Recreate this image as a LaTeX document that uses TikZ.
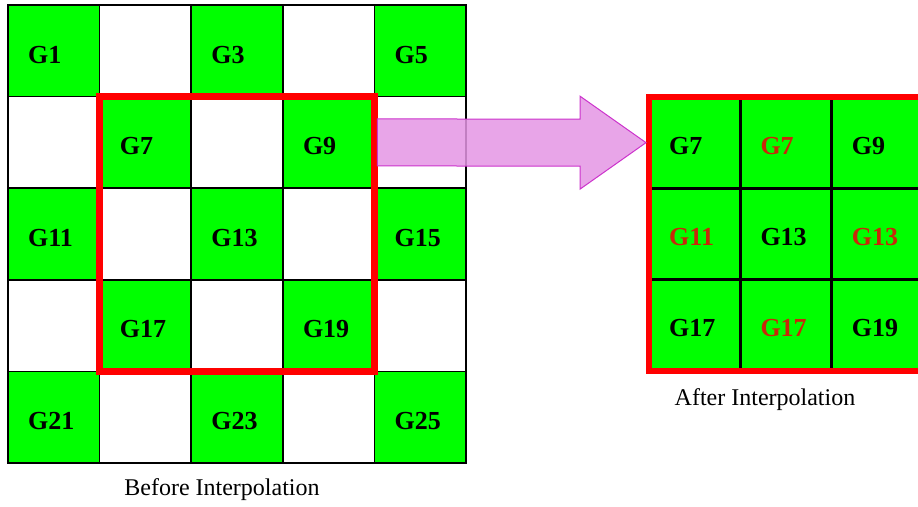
\documentclass[tikz,border=0pt]{standalone}
\usepackage{fontspec}
\setmainfont{Liberation Serif}
\usetikzlibrary{calc}
\definecolor{gr}{RGB}{0,255,0}
\definecolor{lbl}{RGB}{200,40,10}
\definecolor{arrowc}{RGB}{204,51,204}
\definecolor{arrowf}{RGB}{228,150,228}
\begin{document}
\begin{tikzpicture}[x=1pt,y=-1pt,
  cell/.style={draw=black, line width=1.5pt, minimum size=91.6pt, inner sep=0pt, outer sep=0pt, anchor=north west},
  rcell/.style={draw=black, line width=3pt, minimum size=91.3pt, inner sep=0pt, outer sep=0pt, anchor=north west, fill=gr},
  lab/.style={font=\fontsize{26}{30}\selectfont\bfseries, anchor=base west, inner sep=0pt},
  captext/.style={font=\fontsize{24}{28}\selectfont, anchor=base, inner sep=0pt},
  redbox/.style={draw=red, line width=6.5pt}]
\useasboundingbox (0,0) rectangle (918,506);
\fill[white] (0,0) rectangle (918,506);
% left grid
\foreach \j in {0,...,4}{
  \foreach \i in {0,...,4}{
    \pgfmathtruncatemacro\n{5*\j+\i+1}
    \pgfmathtruncatemacro\odd{mod(\n,2)}
    \ifnum\odd=1
      \node[cell, fill=gr] (L\n) at ({8+91.6*\i},{5+91.6*\j}) {};
      \node[lab] (tL\n) at ({8+91.6*\i+20},{5+91.6*\j+58}) {G\n};
    \else
      \node[cell, fill=white] (L\n) at ({8+91.6*\i},{5+91.6*\j}) {};
    \fi
  }
}
\draw[redbox] (L7.north west) rectangle (L19.south east);
% right grid
\foreach \j in {0,1,2}{
  \foreach \i in {0,1,2}{
    \pgfmathtruncatemacro\n{3*\j+\i+1}
    \node[rcell] (R\n) at ({649+91.3*\i},{97+91.3*\j}) {};
  }
}
\node[lab] (tR1) at ($(R1.north west)+(20,57)$) {G7};
\node[lab, text=lbl] (tR2) at ($(R2.north west)+(20,57)$) {G7};
\node[lab] (tR3) at ($(R3.north west)+(20,57)$) {G9};
\node[lab, text=lbl] (tR4) at ($(R4.north west)+(20,57)$) {G11};
\node[lab] (tR5) at ($(R5.north west)+(20,57)$) {G13};
\node[lab, text=lbl] (tR6) at ($(R6.north west)+(20,57)$) {G13};
\node[lab] (tR7) at ($(R7.north west)+(20,57)$) {G17};
\node[lab, text=lbl] (tR8) at ($(R8.north west)+(20,57)$) {G17};
\node[lab] (tR9) at ($(R9.north west)+(20,57)$) {G19};
\draw[redbox] (R1.north west) rectangle (R9.south east);
% arrow
\coordinate (as) at ($(L9.east)+(3,0)$);
\coordinate (at) at ($(R1.west)+(-3,0)$);
\draw[arrowc, line width=1pt, fill=arrowf, fill opacity=0.85]
  ($(as)+(0,-23.5)$) -- ($(at)+(-66,-23.5)$) -- ($(at)+(-66,-46.5)$) -- (at)
  -- ($(at)+(-66,46.5)$) -- ($(at)+(-66,23.5)$) -- ($(as)+(0,23.5)$) -- cycle;
% captions
\node[captext] (cb) at (222,495) {Before Interpolation};
\node[captext] (ca) at (765,405) {After Interpolation};
\end{tikzpicture}
\end{document}
